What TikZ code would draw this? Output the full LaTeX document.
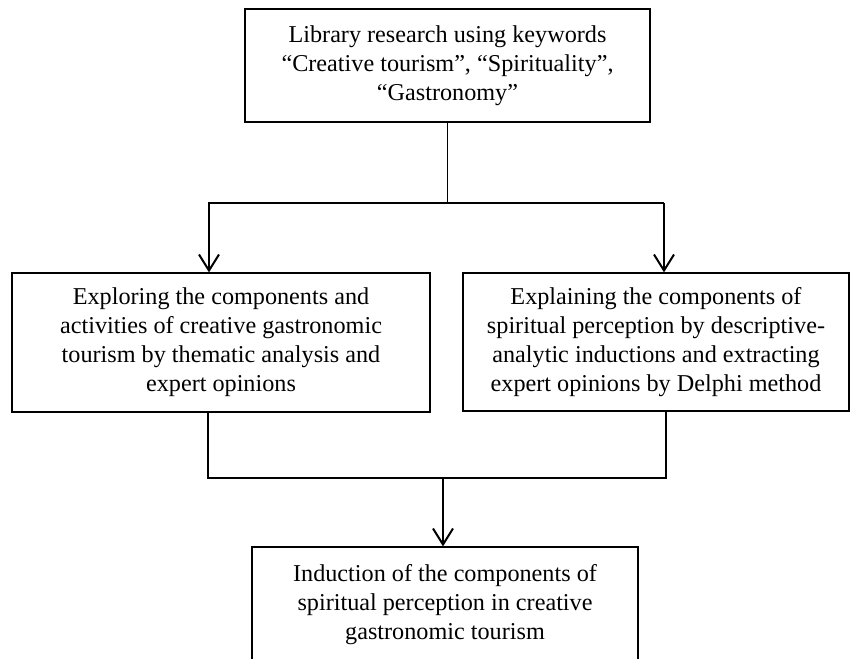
\documentclass[tikz,border=0pt]{standalone}
\usepackage{fontspec}
\setmainfont{Liberation Serif}
\usetikzlibrary{arrows.meta}
\tikzset{
  stepbox/.style={draw, line width=1.2pt, inner sep=0pt, align=center,
    font=\fontsize{24.2}{29}\selectfont},
  link/.style={line width=1.2pt},
  arr/.style={line width=2pt, -{Straight Barb[length=16pt, width=20pt, line width=2pt]}}
}
\begin{document}
\begin{tikzpicture}[x=1pt, y=-1pt]
    \useasboundingbox (0,0) rectangle (852,659);
    \clip (0,0) rectangle (852,659);

    \node[stepbox, minimum width=405pt, minimum height=113pt] (lib) at (447.5,65.5)
        {Library research using keywords\\``Creative tourism'', ``Spirituality'',\\``Gastronomy''};
    \node[stepbox, minimum width=418pt, minimum height=139pt] (explore) at (221,342.5)
        {Exploring the components and\\activities of creative gastronomic\\tourism by thematic analysis and\\expert opinions};
    \node[stepbox, minimum width=386pt, minimum height=138pt] (explain) at (656,342)
        {Explaining the components of\\spiritual perception by descriptive-\\analytic inductions and extracting\\expert opinions by Delphi method};
    \node[stepbox, minimum width=386pt, minimum height=115pt] (induct) at (445,604.5)
        {Induction of the components of\\spiritual perception in creative\\gastronomic tourism};

    % split
    \coordinate (sl) at (209,203);
    \coordinate (sr) at (664,203);
    \draw[link] (lib.south) -- (lib.south |- sl);
    \draw[arr] (sr) -- (sl) -- (sl |- explore.north);
    \draw[arr] (sr) -- (sr |- explain.north);

    % join
    \coordinate (jl) at (208,478);
    \coordinate (jr) at (666,478);
    \coordinate (jm) at (443,478);
    \draw[link] (jl |- explore.south) -- (jl) -- (jr) -- (jr |- explain.south);
    \draw[arr] (jm) -- (jm |- induct.north);
\end{tikzpicture}
\end{document}
